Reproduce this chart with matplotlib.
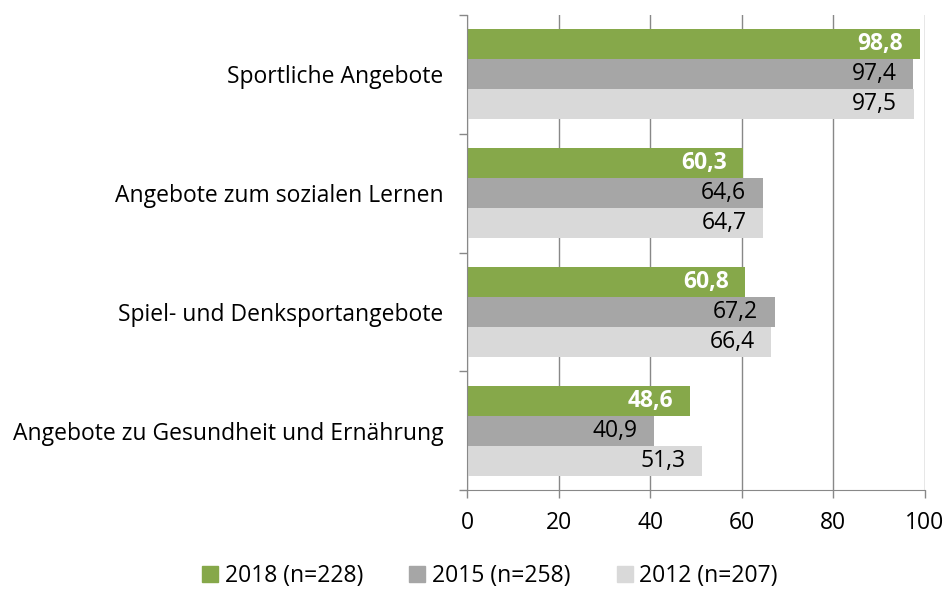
import matplotlib.pyplot as plt
import numpy as np
from matplotlib.patches import Patch

plt.rcParams['font.family'] = ['Open Sans', 'DejaVu Sans']

categories = ['Sportliche Angebote', 'Angebote zum sozialen Lernen',
              'Spiel- und Denksportangebote', 'Angebote zu Gesundheit und Ernährung']
v2018 = [98.8, 60.3, 60.8, 48.6]
v2015 = [97.4, 64.6, 67.2, 40.9]
v2012 = [97.5, 64.7, 66.4, 51.3]
series_labels = ['2018 (n=228)', '2015 (n=258)', '2012 (n=207)']
colors = ['#86a84a', '#a6a6a6', '#d9d9d9']

fs = 16.5

fig = plt.figure(figsize=(9.46, 5.92), dpi=100)
ax = fig.add_axes([467 / 946, 1 - 490 / 592, (925 - 467) / 946, (490 - 15) / 592])

y = np.arange(len(categories))
h = 0.253
for k, (vals, col) in enumerate(zip([v2018, v2015, v2012], colors)):
    pos = y + (k - 1) * h
    ax.barh(pos, vals, height=h, color=col, zorder=2)
    for p, v in zip(pos, vals):
        txt = ('%.1f' % v).replace('.', ',')
        style = dict(color='white', fontweight='bold') if k == 0 else dict(color='black')
        ax.annotate(txt, (v, p), xytext=(-12, 0), textcoords='offset points',
                    ha='right', va='center', fontsize=fs, zorder=3, **style)

ax.set_xlim(0, 100)
ax.set_ylim(len(categories) - 0.5, -0.5)
ax.set_xticks([0, 20, 40, 60, 80, 100])
ax.set_yticks(y)
ax.set_yticklabels(categories, fontsize=fs)
ax.set_yticks(np.arange(-0.5, len(categories)), minor=True)
ax.tick_params(axis='y', which='major', length=0, pad=17)
ax.tick_params(axis='y', which='minor', length=6, color='#888888', width=1)
ax.tick_params(axis='x', length=6, color='#888888', width=1, labelsize=fs, pad=9)

ax.grid(axis='x', color='#888888', linewidth=1, zorder=1)
for s in ['top', 'right']:
    ax.spines[s].set_visible(False)
for s in ['left', 'bottom']:
    ax.spines[s].set_color('#888888')

handles = [Patch(color=c) for c in colors]
fig.legend(handles, series_labels, loc='lower center', bbox_to_anchor=(0.518, 0.003),
           ncol=3, frameon=False, fontsize=fs, handlelength=0.7, handleheight=0.7,
           handletextpad=0.3, columnspacing=2.0, borderpad=0.1, borderaxespad=0)

fig.savefig('out.png', dpi=100)
